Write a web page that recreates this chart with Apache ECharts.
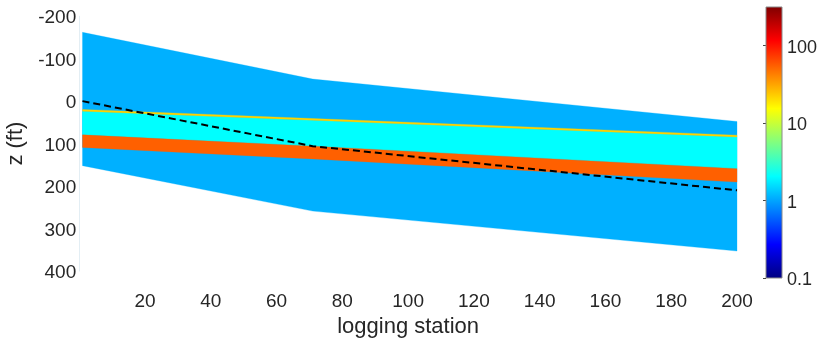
<!DOCTYPE html>
<html>
<head>
<meta charset="utf-8">
<script src="https://cdn.jsdelivr.net/npm/echarts@6/dist/echarts.min.js"></script>
<style>
  html, body { margin: 0; padding: 0; background: #fff; }
  #chart { width: 817px; height: 339px; }
</style>
</head>
<body>
<div id="chart"></div>
<script>
// Logging stations where the layer boundaries are defined
const stations = [1, 71, 200];

// Layer boundary depths z (ft), positive downward
const blueTop      = [-162, -52, 48];
const yellowTop    = [19.6, 41, 80.2];
const yellowBottom = [23.6, 45, 84.2];
const orangeTop    = [79.4, 106, 159];
const orangeBottom = [109, 136, 190.5];
const blueBottom   = [152, 259, 353];

// Tool path (dashed)
const toolDepth = [0, 106, 210];

// Layer resistivities (ohm-m), coloured on the log colour scale
const resBlue = 1.1;
const resCyan = 2.05;
const resYellow = 22;
const resOrange = 54;

// Colour scale limits
const cbarMin = 0.1;
const cbarMax = 316.2;

// Axis ticks
const zTicks = [-200, -100, 0, 100, 200, 300, 400];
const stationTicks = [20, 40, 60, 80, 100, 120, 140, 160, 180, 200];

const TEXT = '#262626';
const FONT = '"Liberation Sans", Arial, Helvetica, sans-serif';
const TICK_SIZE = 19;
const CBAR_TICK_SIZE = 18;
const TITLE_SIZE = 22;

// jet colormap
function jet(t) {
  t = Math.max(0, Math.min(1, t));
  const c = (x) => Math.round(255 * Math.max(0, Math.min(1, x)));
  const r = 1.5 - Math.abs(4 * t - 3);
  const g = 1.5 - Math.abs(4 * t - 2);
  const b = 1.5 - Math.abs(4 * t - 1);
  return 'rgb(' + c(r) + ',' + c(g) + ',' + c(b) + ')';
}
function resColor(v) {
  const lo = Math.log10(cbarMin), hi = Math.log10(cbarMax);
  return jet((Math.log10(v) - lo) / (hi - lo));
}

// One polygon item per layer: [s0, top0, bot0, s1, top1, bot1, ...]
function layerItem(top, bottom) {
  const item = [];
  stations.forEach((s, i) => { item.push(s, top[i], bottom[i]); });
  return item;
}
function layerSeries(name, top, bottom, color) {
  const n = stations.length;
  return {
    type: 'custom',
    name: name,
    xAxisIndex: 0,
    yAxisIndex: 0,
    silent: true,
    data: [layerItem(top, bottom)],
    encode: { x: [0], y: [1] },
    renderItem: function (params, api) {
      const pts = [];
      for (let i = 0; i < n; i++) pts.push(api.coord([api.value(3 * i), api.value(3 * i + 1)]));
      for (let i = n - 1; i >= 0; i--) pts.push(api.coord([api.value(3 * i), api.value(3 * i + 2)]));
      return { type: 'polygon', shape: { points: pts }, style: { fill: color, stroke: color, lineWidth: 0.3 } };
    }
  };
}

// Colour bar stops (top = high resistivity)
const jetStops = [];
for (let k = 0; k <= 32; k++) {
  const t = k / 32;
  jetStops.push({ offset: 1 - t, color: jet(t) });
}
jetStops.sort((a, b) => a.offset - b.offset);

const chart = echarts.init(document.getElementById('chart'), null, { renderer: 'canvas' });

chart.setOption({
  animation: false,
  backgroundColor: '#ffffff',
  textStyle: { fontFamily: FONT },
  grid: [
    { left: 79.2, right: 80, top: 16.2, bottom: 68, containLabel: false, outerBoundsMode: 'none' },
    { left: 766, width: 16, top: 7, height: 271, containLabel: false, outerBoundsMode: 'none' }
  ],
  xAxis: [
    {
      gridIndex: 0,
      type: 'value',
      min: 0,
      max: 200,
      interval: 20,
      name: 'logging station',
      nameLocation: 'middle',
      nameGap: 44,
      nameTextStyle: { fontSize: TITLE_SIZE, color: TEXT, fontFamily: FONT },
      axisLine: { show: false },
      axisTick: { show: false },
      splitLine: { show: false },
      axisLabel: {
        fontSize: TICK_SIZE, color: TEXT, fontFamily: FONT, margin: 21,
        formatter: (v) => (stationTicks.indexOf(v) >= 0 ? String(v) : '')
      }
    },
    { gridIndex: 1, type: 'value', min: 0, max: 1, show: false }
  ],
  yAxis: [
    {
      gridIndex: 0,
      type: 'value',
      inverse: true,
      min: -200,
      max: 400,
      interval: 100,
      name: 'z (ft)',
      nameLocation: 'middle',
      nameGap: 47,
      nameTextStyle: { fontSize: TITLE_SIZE, color: TEXT, fontFamily: FONT },
      axisLine: { show: true, lineStyle: { color: '#e3eef4', width: 1 } },
      axisTick: { show: false },
      splitLine: { show: false },
      axisLabel: {
        fontSize: TICK_SIZE, color: TEXT, fontFamily: FONT, margin: 3,
        verticalAlign: 'top', lineHeight: 4,
        formatter: (v) => (zTicks.indexOf(v) >= 0 ? String(v) : '')
      }
    },
    {
      gridIndex: 1,
      type: 'log',
      logBase: 10,
      min: cbarMin,
      max: cbarMax,
      position: 'right',
      axisLine: { show: false },
      axisTick: { show: true, inside: true, length: 3, lineStyle: { color: '#444', width: 1 } },
      splitLine: { show: false },
      axisLabel: {
        fontSize: CBAR_TICK_SIZE, color: TEXT, fontFamily: FONT, margin: 5,
        verticalAlign: 'top', lineHeight: 4,
        showMaxLabel: false,
        formatter: (v) => {
          const e = Math.log10(v);
          return Math.abs(e - Math.round(e)) < 1e-6 ? String(+v.toPrecision(3)) : '';
        }
      }
    }
  ],
  series: [
    layerSeries('host', blueTop, blueBottom, resColor(resBlue)),
    layerSeries('reservoir', yellowBottom, orangeTop, resColor(resCyan)),
    layerSeries('thin bed', yellowTop, yellowBottom, resColor(resYellow)),
    layerSeries('resistive bed', orangeTop, orangeBottom, resColor(resOrange)),
    {
      type: 'line',
      name: 'tool',
      xAxisIndex: 0,
      yAxisIndex: 0,
      data: stations.map((s, i) => [s, toolDepth[i]]),
      symbol: 'none',
      silent: true,
      z: 5,
      lineStyle: { color: '#000', width: 2, type: [7, 4] }
    },
    {
      type: 'custom',
      name: 'colorbar',
      xAxisIndex: 1,
      yAxisIndex: 1,
      silent: true,
      data: [[0, cbarMin, 1, cbarMax]],
      encode: { x: [0, 2], y: [1, 3] },
      renderItem: function (params, api) {
        const bl = api.coord([api.value(0), api.value(1)]);
        const tr = api.coord([api.value(2), api.value(3)]);
        return {
          type: 'rect',
          shape: { x: bl[0], y: tr[1], width: tr[0] - bl[0], height: bl[1] - tr[1] },
          style: {
            fill: new echarts.graphic.LinearGradient(0, 0, 0, 1, jetStops),
            stroke: '#8a8a8a',
            lineWidth: 1
          }
        };
      }
    }
  ]
});
</script>
</body>
</html>
